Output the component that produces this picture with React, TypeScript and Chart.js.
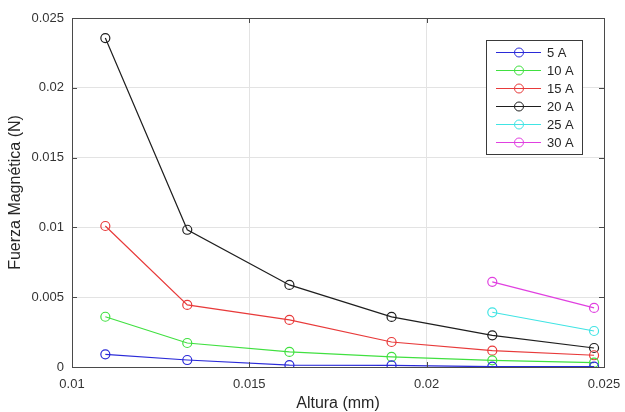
import React, { useEffect, useRef } from "react";
import { Chart, registerables } from "chart.js";
Chart.register(...registerables);

const alturas = [0.01094, 0.01325, 0.01613, 0.01901, 0.02185, 0.02472];
const seriesLabels = ["5 A", "10 A", "15 A", "20 A", "25 A", "30 A"];
const seriesColors = ["#2a2ad8", "#40e040", "#e83a3a", "#1e1e1e", "#40e4e4", "#e040e0"];
const f5 = [0.00091, 0.0005, 0.00014, 0.00012, 0.00002, 0.00002];
const f10 = [0.0036, 0.00172, 0.00108, 0.00072, 0.00048, 0.00031];
const f15 = [0.0101, 0.00445, 0.00337, 0.00179, 0.00117, 0.00084];
const f20 = [0.02356, 0.00983, 0.00588, 0.00359, 0.00227, 0.00136];
const f25 = [0.00392, 0.00258];
const f30 = [0.0061, 0.00423];
const xTicks = [0.01, 0.015, 0.02, 0.025];
const yTicks = [0, 0.005, 0.01, 0.015, 0.02, 0.025];

const FONT = "'Liberation Sans', Arial, Helvetica, sans-serif";
const AXIS_COLOR = "#4a4a4a";

function toPoints(values: number[]) {
  const offset = alturas.length - values.length;
  return values.map((v, i) => ({ x: alturas[i + offset], y: v }));
}

const boxPlugin = {
  id: "matlabBox",
  afterDraw(chart: any) {
    const { ctx, chartArea } = chart;
    const { left, right, top, bottom } = chartArea;
    const xs = chart.scales.x;
    const ys = chart.scales.y;
    ctx.save();
    ctx.strokeStyle = AXIS_COLOR;
    ctx.lineWidth = 1;
    ctx.strokeRect(left + 0.5, top + 0.5, right - left, bottom - top);
    const tl = 5;
    ctx.beginPath();
    xTicks.forEach((t) => {
      const px = Math.round(xs.getPixelForValue(t)) + 0.5;
      ctx.moveTo(px, bottom);
      ctx.lineTo(px, bottom - tl);
      ctx.moveTo(px, top);
      ctx.lineTo(px, top + tl);
    });
    yTicks.forEach((t) => {
      const py = Math.round(ys.getPixelForValue(t)) + 0.5;
      ctx.moveTo(left, py);
      ctx.lineTo(left + tl, py);
      ctx.moveTo(right, py);
      ctx.lineTo(right - tl, py);
    });
    ctx.stroke();

    // legend
    const lx = 486, ly = 40, lw = 96, lh = 114;
    ctx.fillStyle = "#ffffff";
    ctx.fillRect(lx, ly, lw, lh);
    ctx.strokeStyle = "#3a3a3a";
    ctx.strokeRect(lx + 0.5, ly + 0.5, lw, lh);
    ctx.font = "13px " + FONT;
    ctx.textBaseline = "middle";
    ctx.textAlign = "left";
    chart.data.datasets.forEach((ds: any, i: number) => {
      const yy = ly + 12 + i * 18;
      ctx.strokeStyle = ds.borderColor;
      ctx.lineWidth = 1;
      ctx.beginPath();
      ctx.moveTo(lx + 10, yy + 0.5);
      ctx.lineTo(lx + 55, yy + 0.5);
      ctx.stroke();
      ctx.beginPath();
      ctx.arc(lx + 33, yy + 0.5, 4.5, 0, Math.PI * 2);
      ctx.stroke();
      ctx.fillStyle = "#262626";
      ctx.fillText(ds.label, lx + 61, yy + 1);
    });
    ctx.restore();
  },
};

const fmt = (v: any) => String(Number(Number(v).toFixed(4)));

export default function App() {
  const ref = useRef<HTMLCanvasElement | null>(null);
  useEffect(() => {
    if (!ref.current) return;
    const data = [f5, f10, f15, f20, f25, f30];
    const chart = new Chart(ref.current, {
      type: "scatter",
      data: {
        datasets: data.map((vals, i) => ({
          label: seriesLabels[i],
          data: toPoints(vals),
          showLine: true,
          borderColor: seriesColors[i],
          backgroundColor: "rgba(0,0,0,0)",
          borderWidth: 1.2,
          pointRadius: 4.5,
          pointBorderWidth: 1.2,
          pointBackgroundColor: "rgba(0,0,0,0)",
          pointBorderColor: seriesColors[i],
        })),
      },
      options: {
        animation: false,
        responsive: false,
        maintainAspectRatio: false,
        layout: { padding: { top: 18, right: 21, left: 0, bottom: 0 } },
        plugins: { legend: { display: false }, tooltip: { enabled: false } },
        scales: {
          x: {
            type: "linear",
            min: 0.01,
            max: 0.025,
            afterBuildTicks: (s: any) => {
              s.ticks = xTicks.map((v) => ({ value: v }));
            },
            afterFit: (s: any) => {
              s.height = 45;
              s.paddingLeft = 0;
              s.paddingRight = 0;
            },
            ticks: { callback: fmt, color: "#333333", font: { size: 13, family: FONT }, padding: 10, maxRotation: 0 },
            grid: { color: "#e3e3e3", drawTicks: false },
            border: { display: false },
            title: { display: true, text: "Altura (mm)", color: "#262626", font: { size: 16, family: FONT, lineHeight: 1 }, padding: { top: -3, bottom: 0 } },
          },
          y: {
            type: "linear",
            min: 0,
            max: 0.025,
            afterBuildTicks: (s: any) => {
              s.ticks = yTicks.map((v) => ({ value: v }));
            },
            afterFit: (s: any) => {
              s.width = 72;
              s.paddingTop = 0;
              s.paddingBottom = 0;
            },
            ticks: { callback: fmt, color: "#333333", font: { size: 13, family: FONT }, padding: 8 },
            grid: { color: "#e3e3e3", drawTicks: false },
            border: { display: false },
            title: { display: true, text: "Fuerza Magnética (N)", color: "#262626", font: { size: 16, family: FONT, lineHeight: 1 }, padding: { top: 8, bottom: 0 } },
          },
        },
      },
      plugins: [boxPlugin],
    } as any);
    return () => chart.destroy();
  }, []);
  return (
    <div style={{ position: "fixed", left: 0, top: 0, width: 625, height: 412, background: "#fff" }}>
      <canvas ref={ref} width={625} height={412} style={{ width: 625, height: 412, display: "block" }} />
    </div>
  );
}
